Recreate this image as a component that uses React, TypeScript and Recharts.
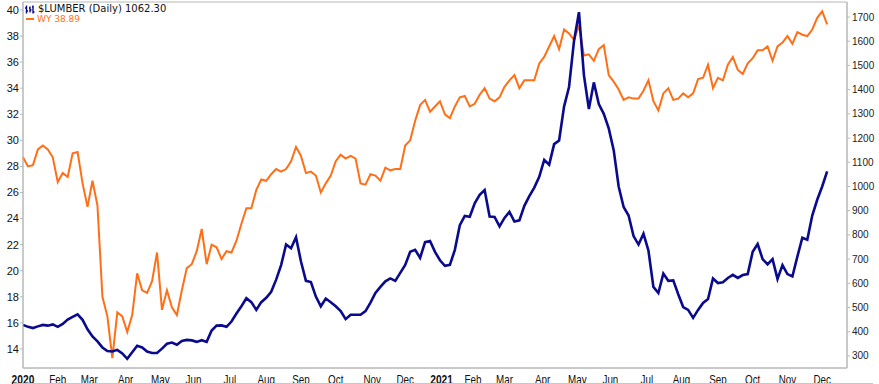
import React from 'react'
import { ComposedChart, Line, XAxis, YAxis, ReferenceArea } from 'recharts'

// one point every 3 trading days, Jan 2 2020 -> mid Dec 2021
const wyValues = [
  28.7, 28.0, 28.1, 29.3, 29.6, 29.3, 28.7, 26.8, 27.5, 27.2,
  29.0, 29.1, 26.7, 24.9, 26.9, 25.0, 18.0, 16.5, 13.3, 16.8,
  16.5, 15.3, 16.6, 19.8, 18.5, 18.3, 19.2, 21.4, 17.0, 18.5,
  17.2, 16.6, 18.5, 20.2, 20.5, 21.5, 23.2, 20.5, 22.0, 21.8,
  20.9, 21.5, 21.4, 22.3, 23.6, 24.8, 24.8, 26.2, 27.0, 26.9,
  27.4, 27.8, 27.6, 27.8, 28.4, 29.5, 28.8, 27.5, 27.6, 27.3,
  26.0, 26.7, 27.3, 28.4, 28.9, 28.6, 28.8, 28.6, 26.7, 26.6,
  27.4, 27.3, 26.9, 27.9, 27.7, 27.8, 27.8, 29.6, 30.0, 31.5,
  32.7, 33.1, 32.2, 32.6, 33.0, 32.0, 31.7, 32.6, 33.3, 33.4,
  32.6, 32.8, 33.5, 34.0, 33.2, 33.0, 33.3, 34.1, 34.6, 35.0,
  34.0, 34.6, 34.6, 34.6, 35.9, 36.4, 37.2, 38.0, 37.0, 38.5,
  38.2, 37.7, 38.8, 36.5, 36.6, 36.1, 37.0, 37.3, 35.0, 34.5,
  33.9, 33.1, 33.3, 33.2, 33.2, 33.8, 34.6, 33.0, 32.3, 33.6,
  34.0, 33.1, 33.2, 33.6, 33.3, 33.6, 34.7, 34.8, 35.8, 34.0,
  34.8, 34.6, 35.8, 36.4, 35.4, 35.1, 35.9, 36.3, 36.9, 36.9,
  37.2, 36.1, 37.2, 37.5, 38.0, 37.4, 38.3, 38.1, 38.0, 38.5,
  39.4, 39.9, 38.89,
]

const lumberValues = [
  428, 420, 415, 422, 428, 425, 430, 420, 432, 450,
  461, 472, 449, 410, 380, 360, 335, 320, 318, 325,
  310, 288, 315, 342, 335, 318, 312, 312, 330, 350,
  355, 346, 362, 366, 364, 358, 365, 358, 405, 425,
  426, 420, 442, 475, 505, 538, 522, 490, 522, 540,
  565, 615, 675, 760, 745, 790, 690, 610, 605, 545,
  505, 537, 522, 505, 485, 452, 470, 470, 470, 485,
  520, 560, 585, 608, 620, 610, 643, 676, 730, 738,
  705, 770, 775, 730, 695, 672, 676, 738, 840, 878,
  875, 930, 965, 985, 876, 874, 835, 870, 895, 855,
  860, 920, 960, 995, 1040, 1110, 1090, 1175, 1190, 1330,
  1411, 1600, 1720, 1460, 1320, 1430, 1340, 1300, 1240, 1150,
  1000, 915, 880, 795, 760, 805, 735, 585, 560, 640,
  610, 612, 555, 502, 490, 457, 490, 519, 535, 620,
  601, 604, 622, 635, 622, 634, 638, 730, 762, 700,
  678, 700, 618, 675, 638, 628, 710, 788, 780, 880,
  945, 1000, 1062.3,
]

const monthTicks = [0, 21, 40, 62, 83, 103, 125, 147, 168, 189, 211, 231, 253, 272, 291, 314, 335, 355, 377, 398, 420, 441, 462, 483]
const monthLabels = ['2020', 'Feb', 'Mar', 'Apr', 'May', 'Jun', 'Jul', 'Aug', 'Sep', 'Oct', 'Nov', 'Dec', '2021', 'Feb', 'Mar', 'Apr', 'May', 'Jun', 'Jul', 'Aug', 'Sep', 'Oct', 'Nov', 'Dec']
const wyTicks = [14, 16, 18, 20, 22, 24, 26, 28, 30, 32, 34, 36, 38, 40]
const lumberTicks = [300, 400, 500, 600, 700, 800, 900, 1000, 1100, 1200, 1300, 1400, 1500, 1600, 1700]

const data = wyValues.map((wy, i) => ({ day: i * 3, wy, lumber: lumberValues[i] }))

const FONT = '"Liberation Sans", Arial, sans-serif'
const BORDER = '#b8b8b8'
const X_MAX = 498
const WY_DOMAIN: [number, number] = [12.54, 40.61]

const MonthTick = (props: any) => {
  const { x, y, payload } = props
  const idx = monthTicks.indexOf(payload.value)
  const label = monthLabels[idx] ?? ''
  const isYear = /^\d{4}$/.test(label)
  // squeeze the glyphs a little, the original uses a condensed face
  return (
    <g transform={`translate(${x},${y + 10}) scale(0.82,1)`}>
      <text
        x={0}
        y={0}
        textAnchor="middle"
        fontFamily={FONT}
        fontSize={isYear ? 12.5 : 12}
        fontWeight={isYear ? 700 : 400}
        fill="#111"
      >
        {label}
      </text>
    </g>
  )
}

export default function App() {
  return (
    <div style={{ position: 'absolute', left: 0, top: 0, width: 879, height: 384, background: '#fff' }}>
      <ComposedChart width={879} height={384} data={data} margin={{ top: 2, right: 0, left: 0, bottom: 0 }}>
        <XAxis
          dataKey="day"
          type="number"
          domain={[0, X_MAX]}
          ticks={monthTicks}
          interval={0}
          tick={<MonthTick />}
          tickLine={false}
          tickMargin={0}
          axisLine={{ stroke: BORDER }}
          height={16}
        />
        <YAxis
          yAxisId="left"
          orientation="left"
          domain={WY_DOMAIN}
          ticks={wyTicks}
          interval={0}
          width={23}
          tickSize={3}
          tickMargin={1}
          tick={{ fontSize: 11, fill: '#111', fontFamily: FONT }}
          tickLine={{ stroke: BORDER }}
          axisLine={{ stroke: BORDER }}
          allowDataOverflow
        />
        <YAxis
          yAxisId="right"
          orientation="right"
          domain={[250, 1762]}
          ticks={lumberTicks}
          interval={0}
          width={32}
          tickSize={3}
          tickMargin={2}
          tick={{ fontSize: 10, fill: '#222', fontFamily: FONT }}
          tickLine={{ stroke: BORDER }}
          axisLine={{ stroke: BORDER }}
          allowDataOverflow
        />
        <ReferenceArea
          yAxisId="left"
          x1={0}
          x2={X_MAX}
          y1={WY_DOMAIN[0]}
          y2={WY_DOMAIN[1]}
          fill="none"
          stroke={BORDER}
          ifOverflow="visible"
        />
        <Line
          yAxisId="left"
          dataKey="wy"
          type="linear"
          stroke="#ff6f17"
          strokeWidth={2}
          dot={false}
          isAnimationActive={false}
        />
        <Line
          yAxisId="right"
          dataKey="lumber"
          type="linear"
          stroke="#0a0a8c"
          strokeWidth={2.6}
          dot={false}
          isAnimationActive={false}
        />
      </ComposedChart>

      {/* legend, top left inside the plot */}
      <div style={{ position: 'absolute', left: 25, top: 4, fontFamily: '"DejaVu Sans", Verdana, sans-serif' }}>
        <div style={{ display: 'flex', alignItems: 'center', height: 10, fontSize: 10, lineHeight: '10px', color: '#111' }}>
          <svg width={10} height={9} style={{ marginRight: 3 }}>
            <path d="M1.5 0.5v8 M0 3h1.5 M1.5 6h1.5 M5 1.5v6 M4 3h1 M5 5h1.5 M8 0.5v8 M7 2h1 M8 7h1.5" stroke="#0a0a8c" strokeWidth={1.4} fill="none" />
          </svg>
          <span>$LUMBER (Daily) 1062.30</span>
        </div>
        <div style={{ display: 'flex', alignItems: 'center', height: 10, fontSize: 9, lineHeight: '9px', color: '#ff6f17' }}>
          <span style={{ display: 'inline-block', width: 8, height: 2, background: '#ff6f17', marginLeft: 1, marginRight: 3 }} />
          <span>WY 38.89</span>
        </div>
      </div>

      {/* top edge of the panel below */}
      <div style={{ position: 'absolute', left: 13, top: 383, width: 860, height: 1, background: '#c8c8c8' }} />
    </div>
  )
}
